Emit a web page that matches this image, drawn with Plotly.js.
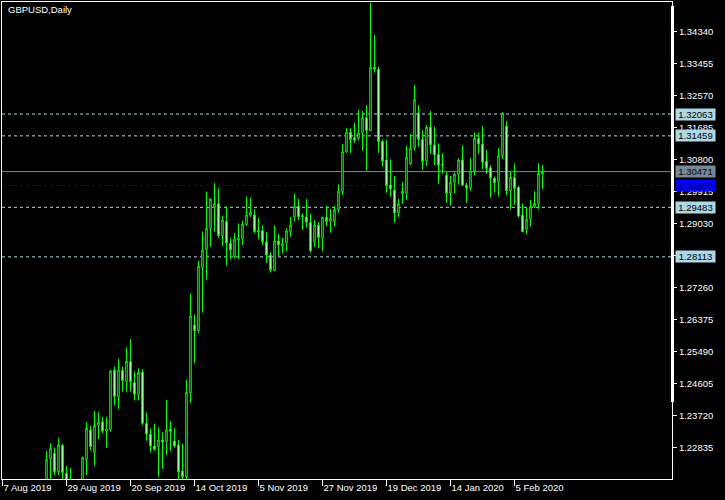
<!DOCTYPE html>
<html><head><meta charset="utf-8">
<script src="https://cdn.plot.ly/plotly-3.0.1.min.js"></script>
<style>html,body{margin:0;padding:0;background:#000;}#chart{width:725px;height:500px;}</style>
</head><body><div id="chart"></div>
<script>
const dates = ['2019-08-07','2019-08-08','2019-08-09','2019-08-12','2019-08-13','2019-08-14','2019-08-15','2019-08-16','2019-08-19','2019-08-20',
'2019-08-21','2019-08-22','2019-08-23','2019-08-26','2019-08-27','2019-08-28','2019-08-29','2019-08-30','2019-09-02','2019-09-03',
'2019-09-04','2019-09-05','2019-09-06','2019-09-09','2019-09-10','2019-09-11','2019-09-12','2019-09-13','2019-09-16','2019-09-17',
'2019-09-18','2019-09-19','2019-09-20','2019-09-23','2019-09-24','2019-09-25','2019-09-26','2019-09-27','2019-09-30','2019-10-01',
'2019-10-02','2019-10-03','2019-10-04','2019-10-07','2019-10-08','2019-10-09','2019-10-10','2019-10-11','2019-10-14','2019-10-15',
'2019-10-16','2019-10-17','2019-10-18','2019-10-21','2019-10-22','2019-10-23','2019-10-24','2019-10-25','2019-10-28','2019-10-29',
'2019-10-30','2019-10-31','2019-11-01','2019-11-04','2019-11-05','2019-11-06','2019-11-07','2019-11-08','2019-11-11','2019-11-12',
'2019-11-13','2019-11-14','2019-11-15','2019-11-18','2019-11-19','2019-11-20','2019-11-21','2019-11-22','2019-11-25','2019-11-26',
'2019-11-27','2019-11-28','2019-11-29','2019-12-02','2019-12-03','2019-12-04','2019-12-05','2019-12-06','2019-12-09','2019-12-10',
'2019-12-11','2019-12-12','2019-12-13','2019-12-16','2019-12-17','2019-12-18','2019-12-19','2019-12-20','2019-12-23','2019-12-24',
'2019-12-26','2019-12-27','2019-12-30','2019-12-31','2020-01-02','2020-01-03','2020-01-06','2020-01-07','2020-01-08','2020-01-09',
'2020-01-10','2020-01-13','2020-01-14','2020-01-15','2020-01-16','2020-01-17','2020-01-20','2020-01-21','2020-01-22','2020-01-23',
'2020-01-24','2020-01-27','2020-01-28','2020-01-29','2020-01-30','2020-01-31','2020-02-03','2020-02-04','2020-02-05','2020-02-06',
'2020-02-07','2020-02-10','2020-02-11','2020-02-12','2020-02-13','2020-02-14'];

const opens = [1.2150,1.2140,1.2135,1.2030,1.2060,1.2065,1.2075,1.2150,1.2135,1.2145,
1.2160,1.2135,1.2252,1.2268,1.2217,1.2290,1.2213,1.2185,1.2160,1.2065,
1.2075,1.2251,1.2333,1.2270,1.2345,1.2355,1.2329,1.2333,1.2498,1.2425,
1.2498,1.2466,1.2522,1.2464,1.2431,1.2492,1.2351,1.2321,1.2288,1.2286,
1.2305,1.2300,1.2335,1.2302,1.2291,1.2219,1.2203,1.2436,1.2623,1.2607,
1.2782,1.2830,1.2890,1.2948,1.2959,1.2870,1.2909,1.2849,1.2812,1.2858,
1.2863,1.2901,1.2926,1.2927,1.2884,1.2884,1.2853,1.2816,1.2773,1.2855,
1.2841,1.2849,1.2881,1.2921,1.2952,1.2922,1.2922,1.2907,1.2853,1.2899,
1.2864,1.2921,1.2909,1.2909,1.2941,1.2992,1.3102,1.3156,1.3141,1.3139,
1.3155,1.3196,1.3160,1.3336,1.3330,1.3130,1.3079,1.3010,1.2996,1.2933,
1.2985,1.2987,1.3068,1.3112,1.3210,1.3136,1.3077,1.3170,1.3121,1.3095,
1.3068,1.3037,1.2987,1.3018,1.3040,1.3079,1.3009,1.3001,1.3049,1.3139,
1.3123,1.3076,1.3058,1.3029,1.3019,1.3091,1.3173,1.2994,1.3031,1.3004,
1.2927,1.2888,1.2915,1.2950,1.2957,1.3040];

const highs = [1.2175,1.2160,1.2145,1.2090,1.2090,1.2085,1.2160,1.2170,1.2170,1.2180,
1.2190,1.2274,1.2296,1.2284,1.2309,1.2294,1.2233,1.2227,1.2180,1.2090,
1.2259,1.2354,1.2344,1.2385,1.2382,1.2369,1.2369,1.2498,1.2508,1.2529,
1.2508,1.2561,1.2584,1.2494,1.2503,1.2501,1.2381,1.2337,1.2349,1.2340,
1.2326,1.2415,1.2357,1.2337,1.2305,1.2294,1.2471,1.2709,1.2651,1.2800,
1.2881,1.2992,1.2973,1.3015,1.3001,1.2925,1.2952,1.2863,1.2877,1.2904,
1.2911,1.2978,1.2975,1.2943,1.2920,1.2899,1.2879,1.2824,1.2899,1.2875,
1.2864,1.2890,1.2922,1.2987,1.2971,1.2932,1.2971,1.2930,1.2913,1.2907,
1.2922,1.2952,1.2944,1.2952,1.3012,1.3123,1.3167,1.3167,1.3182,1.3218,
1.3215,1.3231,1.3514,1.3425,1.3337,1.3136,1.3135,1.3081,1.3035,1.2971,
1.3018,1.3118,1.3151,1.3287,1.3231,1.3162,1.3176,1.3215,1.3171,1.3125,
1.3098,1.3046,1.3035,1.3044,1.3084,1.3121,1.3016,1.3084,1.3155,1.3155,
1.3173,1.3107,1.3065,1.3033,1.3112,1.3211,1.3187,1.3047,1.3070,1.3007,
1.2959,1.2947,1.2969,1.2993,1.3070,1.3065];

const lows = [1.2105,1.2110,1.2015,1.2015,1.2035,1.2035,1.2050,1.2095,1.2105,1.2125,
1.2115,1.2125,1.2196,1.2208,1.2208,1.2190,1.2160,1.2140,1.2050,1.1958,
1.2065,1.2208,1.2276,1.2234,1.2307,1.2323,1.2284,1.2328,1.2400,1.2391,
1.2439,1.2437,1.2439,1.2414,1.2414,1.2346,1.2303,1.2270,1.2275,1.2203,
1.2225,1.2263,1.2274,1.2284,1.2196,1.2195,1.2195,1.2408,1.2517,1.2600,
1.2657,1.2747,1.2839,1.2881,1.2863,1.2841,1.2787,1.2805,1.2807,1.2805,
1.2844,1.2897,1.2922,1.2877,1.2860,1.2844,1.2794,1.2768,1.2773,1.2814,
1.2821,1.2826,1.2867,1.2909,1.2913,1.2886,1.2892,1.2823,1.2839,1.2835,
1.2826,1.2897,1.2878,1.2895,1.2932,1.2982,1.3099,1.3099,1.3127,1.3133,
1.3105,1.3050,1.3160,1.3321,1.3099,1.3061,1.2989,1.2978,1.2906,1.2922,
1.2958,1.2969,1.3065,1.3105,1.3116,1.3052,1.3063,1.3096,1.3065,1.3013,
1.3041,1.2961,1.2953,1.2987,1.3012,1.3009,1.2961,1.2994,1.3036,1.3096,
1.3053,1.3041,1.2975,1.2989,1.2978,1.3082,1.2982,1.2943,1.2955,1.2920,
1.2881,1.2874,1.2895,1.2946,1.2944,1.2999];

const closes = [1.2140,1.2135,1.2030,1.2060,1.2065,1.2075,1.2150,1.2135,1.2145,1.2160,
1.2135,1.2251,1.2282,1.2217,1.2291,1.2215,1.2185,1.2160,1.2065,1.2075,
1.2256,1.2337,1.2286,1.2345,1.2354,1.2329,1.2335,1.2496,1.2425,1.2498,
1.2469,1.2522,1.2466,1.2431,1.2492,1.2351,1.2321,1.2288,1.2279,1.2305,
1.2299,1.2333,1.2328,1.2288,1.2217,1.2203,1.2437,1.2648,1.2607,1.2786,
1.2830,1.2890,1.2971,1.2959,1.2870,1.2913,1.2849,1.2830,1.2860,1.2863,
1.2902,1.2927,1.2935,1.2881,1.2881,1.2853,1.2816,1.2775,1.2855,1.2844,
1.2849,1.2883,1.2899,1.2952,1.2922,1.2925,1.2907,1.2828,1.2899,1.2865,
1.2921,1.2909,1.2918,1.2942,1.2993,1.3102,1.3156,1.3136,1.3133,1.3153,
1.3196,1.3160,1.3336,1.3330,1.3130,1.3076,1.3008,1.2999,1.2933,1.2958,
1.2993,1.3087,1.3112,1.3247,1.3136,1.3075,1.3170,1.3121,1.3093,1.3065,
1.3065,1.2987,1.3018,1.3040,1.3079,1.3009,1.3001,1.3049,1.3139,1.3123,
1.3073,1.3056,1.3029,1.3016,1.3091,1.3208,1.2994,1.3031,1.3001,1.2924,
1.2881,1.2915,1.2950,1.2959,1.3042,1.3047];

const xTickDates = ['2019-08-07','2019-08-29','2019-09-20','2019-10-14','2019-11-05','2019-11-27','2019-12-19','2020-01-14','2020-02-05'];
const xTickLabels = ['7 Aug 2019','29 Aug 2019','20 Sep 2019','14 Oct 2019','5 Nov 2019','27 Nov 2019','19 Dec 2019','14 Jan 2020','5 Feb 2020'];
const yTickVals = [1.22835,1.23720,1.24605,1.25490,1.26375,1.27260,1.28145,1.29030,1.29915,1.30800,1.31685,1.32570,1.33455,1.34340];
const levelLines = [1.32063,1.31459,1.29483,1.28113];
const bidPrice = 1.30471;
const bluePrice = 1.30088;
const chartTitle = 'GBPUSD,Daily';

const W = 725, H = 500;
const M = {l:2, r:53, t:2, b:21};
const PW = W - M.l - M.r, PH = H - M.t - M.b;
const px2paperX = p => (p - M.l) / PW;
const px2paperY = p => (H - M.b - p) / PH;
const FONT = 'Liberation Sans, Arial, sans-serif';

const trace = {
  type: 'candlestick',
  x: dates, open: opens, high: highs, low: lows, close: closes,
  increasing: {line: {color: '#00ff00', width: 1}, fillcolor: '#000000'},
  decreasing: {line: {color: '#00ff00', width: 1}, fillcolor: '#ffffff'},
  whiskerwidth: 0,
  hoverinfo: 'skip',
  showlegend: false
};

const shapes = [];
levelLines.forEach(v => shapes.push({type:'line', xref:'paper', x0:0, x1:1, yref:'y', y0:v, y1:v,
  line:{color:'#add8e6', width:1, dash:'3px,3px'}, layer:'below'}));
shapes.push({type:'line', xref:'paper', x0:0, x1:1, yref:'y', y0:bluePrice, y1:bluePrice,
  line:{color:'#0000ff', width:1, dash:'3px,3px'}, layer:'below'});
shapes.push({type:'line', xref:'paper', x0:0, x1:1, yref:'y', y0:bidPrice, y1:bidPrice,
  line:{color:'#778899', width:1}, layer:'below'});
shapes.push({type:'rect', xref:'paper', yref:'paper', x0:px2paperX(671), x1:px2paperX(674),
  y0:px2paperY(402), y1:px2paperY(6), fillcolor:'#ffffff', line:{width:0}});

const annotations = [];
annotations.push({xref:'paper', yref:'paper', x:px2paperX(6), y:px2paperY(10), xanchor:'left', yanchor:'middle',
  text: chartTitle, showarrow:false, font:{family:FONT, size:9.5, color:'#ffffff'}});
function priceLabel(v, bg, fg) {
  annotations.push({xref:'paper', yref:'y', x:px2paperX(675), y:v, xanchor:'left', yanchor:'middle',
    text: v.toFixed(5), showarrow:false, bgcolor:bg, width:37, height:9, borderpad:1, align:'center',
    font:{family:FONT, size:9.5, color:fg}});
}
levelLines.forEach(v => priceLabel(v, '#add8e6', '#000000'));
priceLabel(bidPrice, '#778899', '#000000');
priceLabel(bluePrice, '#0000ff', '#000070');

const layout = {
  width: W, height: H,
  margin: M,
  paper_bgcolor: '#000000', plot_bgcolor: '#000000',
  showlegend: false,
  boxgap: 0.45,
  xaxis: {
    type: 'category', range: [-0.125, 167.375], fixedrange: true,
    showgrid: false, zeroline: false,
    showline: true, mirror: true, linecolor: '#ffffff', linewidth: 1,
    ticks: 'outside', ticklen: 6, tickcolor: '#ffffff', tickwidth: 1,
    tickmode: 'array', tickvals: xTickDates, ticktext: xTickLabels,
    ticklabelposition: 'outside right',
    tickfont: {family: FONT, size: 9.5, color: '#ffffff'},
    rangeslider: {visible: false}
  },
  yaxis: {
    side: 'right', range: [1.219695, 1.351614], fixedrange: true,
    showgrid: false, zeroline: false,
    showline: true, mirror: true, linecolor: '#ffffff', linewidth: 1,
    ticks: 'outside', ticklen: 4, tickcolor: '#ffffff', tickwidth: 1,
    tickmode: 'array', tickvals: yTickVals, ticktext: yTickVals.map(v => v.toFixed(5)),
    tickfont: {family: FONT, size: 9.5, color: '#ffffff'}
  },
  shapes: shapes,
  annotations: annotations
};

Plotly.newPlot('chart', [trace], layout, {displayModeBar: false, staticPlot: true});
</script>
</body></html>
